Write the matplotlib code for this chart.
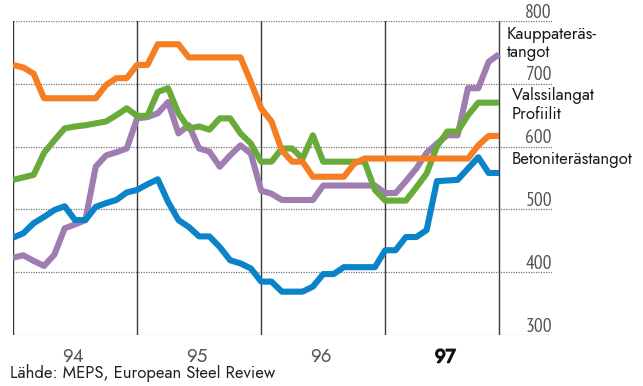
#!/usr/bin/env python3
# -*- coding: utf-8 -*-
import numpy as np
import matplotlib
matplotlib.use("Agg")
import matplotlib.pyplot as plt
import matplotlib.patheffects as pe

# kuukausihinnat 1/94 - 12/97, tammikuu 94 = 0
kauppaterastangot = [423, 427, 418, 410, 428, 470, 476, 483, 568, 586, 591, 597,
                     645, 647, 653, 671, 621, 634, 597, 592, 568, 586, 602, 589,
                     530, 525, 515, 515, 515, 515, 538, 538, 538, 538, 538, 538,
                     526, 526, 545, 565, 590, 605, 618, 618, 693, 693, 735, 747]
valssilangat = [547, 551, 555, 590, 610, 629, 632, 634, 637, 640, 650, 661,
                649, 649, 687, 693, 653, 629, 632, 627, 645, 645, 621, 605,
                576, 576, 597, 597, 581, 618, 576, 576, 576, 576, 576, 531,
                514, 514, 514, 535, 557, 600, 624, 624, 650, 670, 670, 670]
profiilit = [730, 726, 716, 677, 677, 677, 677, 677, 677, 698, 709, 709,
             730, 730, 763, 763, 763, 742, 742, 742, 742, 742, 742, 703,
             661, 640, 594, 576, 576, 552, 552, 552, 552, 573, 581, 581,
             581, 581, 581, 581, 581, 581, 581, 581, 581, 602, 617, 617]
betoniterastangot = [455, 462, 478, 488, 499, 505, 483, 483, 504, 510, 515, 527,
                     531, 540, 548, 512, 483, 472, 457, 457, 440, 419, 414, 406,
                     385, 385, 369, 369, 369, 377, 397, 397, 408, 408, 408, 408,
                     435, 435, 456, 456, 467, 545, 546, 547, 565, 583, 558, 558]

years = ["94", "95", "96", "97"]
y_ticks = [300, 400, 500, 600, 700, 800]

series = [
    (kauppaterastangot, "#a07db0"),
    (betoniterastangot, "#0b83c9"),
    (valssilangat, "#69ab3b"),
    (profiilit, "#f57e22"),
]

labels = [
    ("Kauppateräs-", 47.75, 771),
    ("tangot", 47.75, 742),
    ("Valssilangat", 48.25, 675),
    ("Profiilit", 48.25, 643.5),
    ("Betoniterästangot", 48.25, 572),
]

narrow = ["PT Sans Narrow", "DejaVu Sans"]
futura = ["Jost", "DejaVu Sans"]

fig = plt.figure(figsize=(6.43, 3.86), dpi=100)
ax = fig.add_axes([13 / 643, 51 / 386, 539 / 643, 314 / 386])
x_end = 47
ax.set_xlim(0, 539 / 10.34)
ax.set_ylim(300, 800)
ax.axis("off")

# vaakaviivat pisteviivana koko leveydelle
for v in y_ticks:
    ax.axhline(v, color="#777777", lw=0.9, ls=(0, (1, 1)), zorder=1)
    ax.annotate(str(v), xy=(1.0, v), xycoords=("axes fraction", "data"),
                xytext=(0, 2.5), textcoords="offset points",
                ha="right", va="baseline", fontsize=14, color="#555555",
                family=narrow)

# vuosirajat
for m in [0, 12, 24, 36, x_end]:
    ax.plot([m, m], [300, 800], color="#3a3a3a", lw=1.0, zorder=1)

months = np.arange(len(profiilit))
for vals, col in series:
    ax.plot(months, vals, color=col, lw=4.4, solid_joinstyle="round",
            solid_capstyle="butt", zorder=3)

for txt, x, y in labels:
    ax.text(x, y, txt, ha="left", va="baseline", fontsize=12,
            color="#1a1a1a", family=futura)

for i, yr in enumerate(years):
    last = yr == years[-1]
    t = ax.annotate(yr, xy=(12 * i + 5.8, 300), xycoords="data",
                    xytext=(0, -19.8), textcoords="offset points",
                    ha="center", va="baseline", fontsize=13.5,
                    color="#111111" if last else "#555555",
                    fontweight="bold" if last else "normal",
                    family=futura, annotation_clip=False)
    if last:
        # viimeinen vuosi lihavoituna
        t.set_path_effects([pe.withStroke(linewidth=1.1, foreground="#111111")])

fig.text(10 / 643, 8 / 386, "Lähde: MEPS, European Steel Review",
         fontsize=12, color="#222222", family=futura, va="baseline")

fig.savefig("out.png", dpi=100)
